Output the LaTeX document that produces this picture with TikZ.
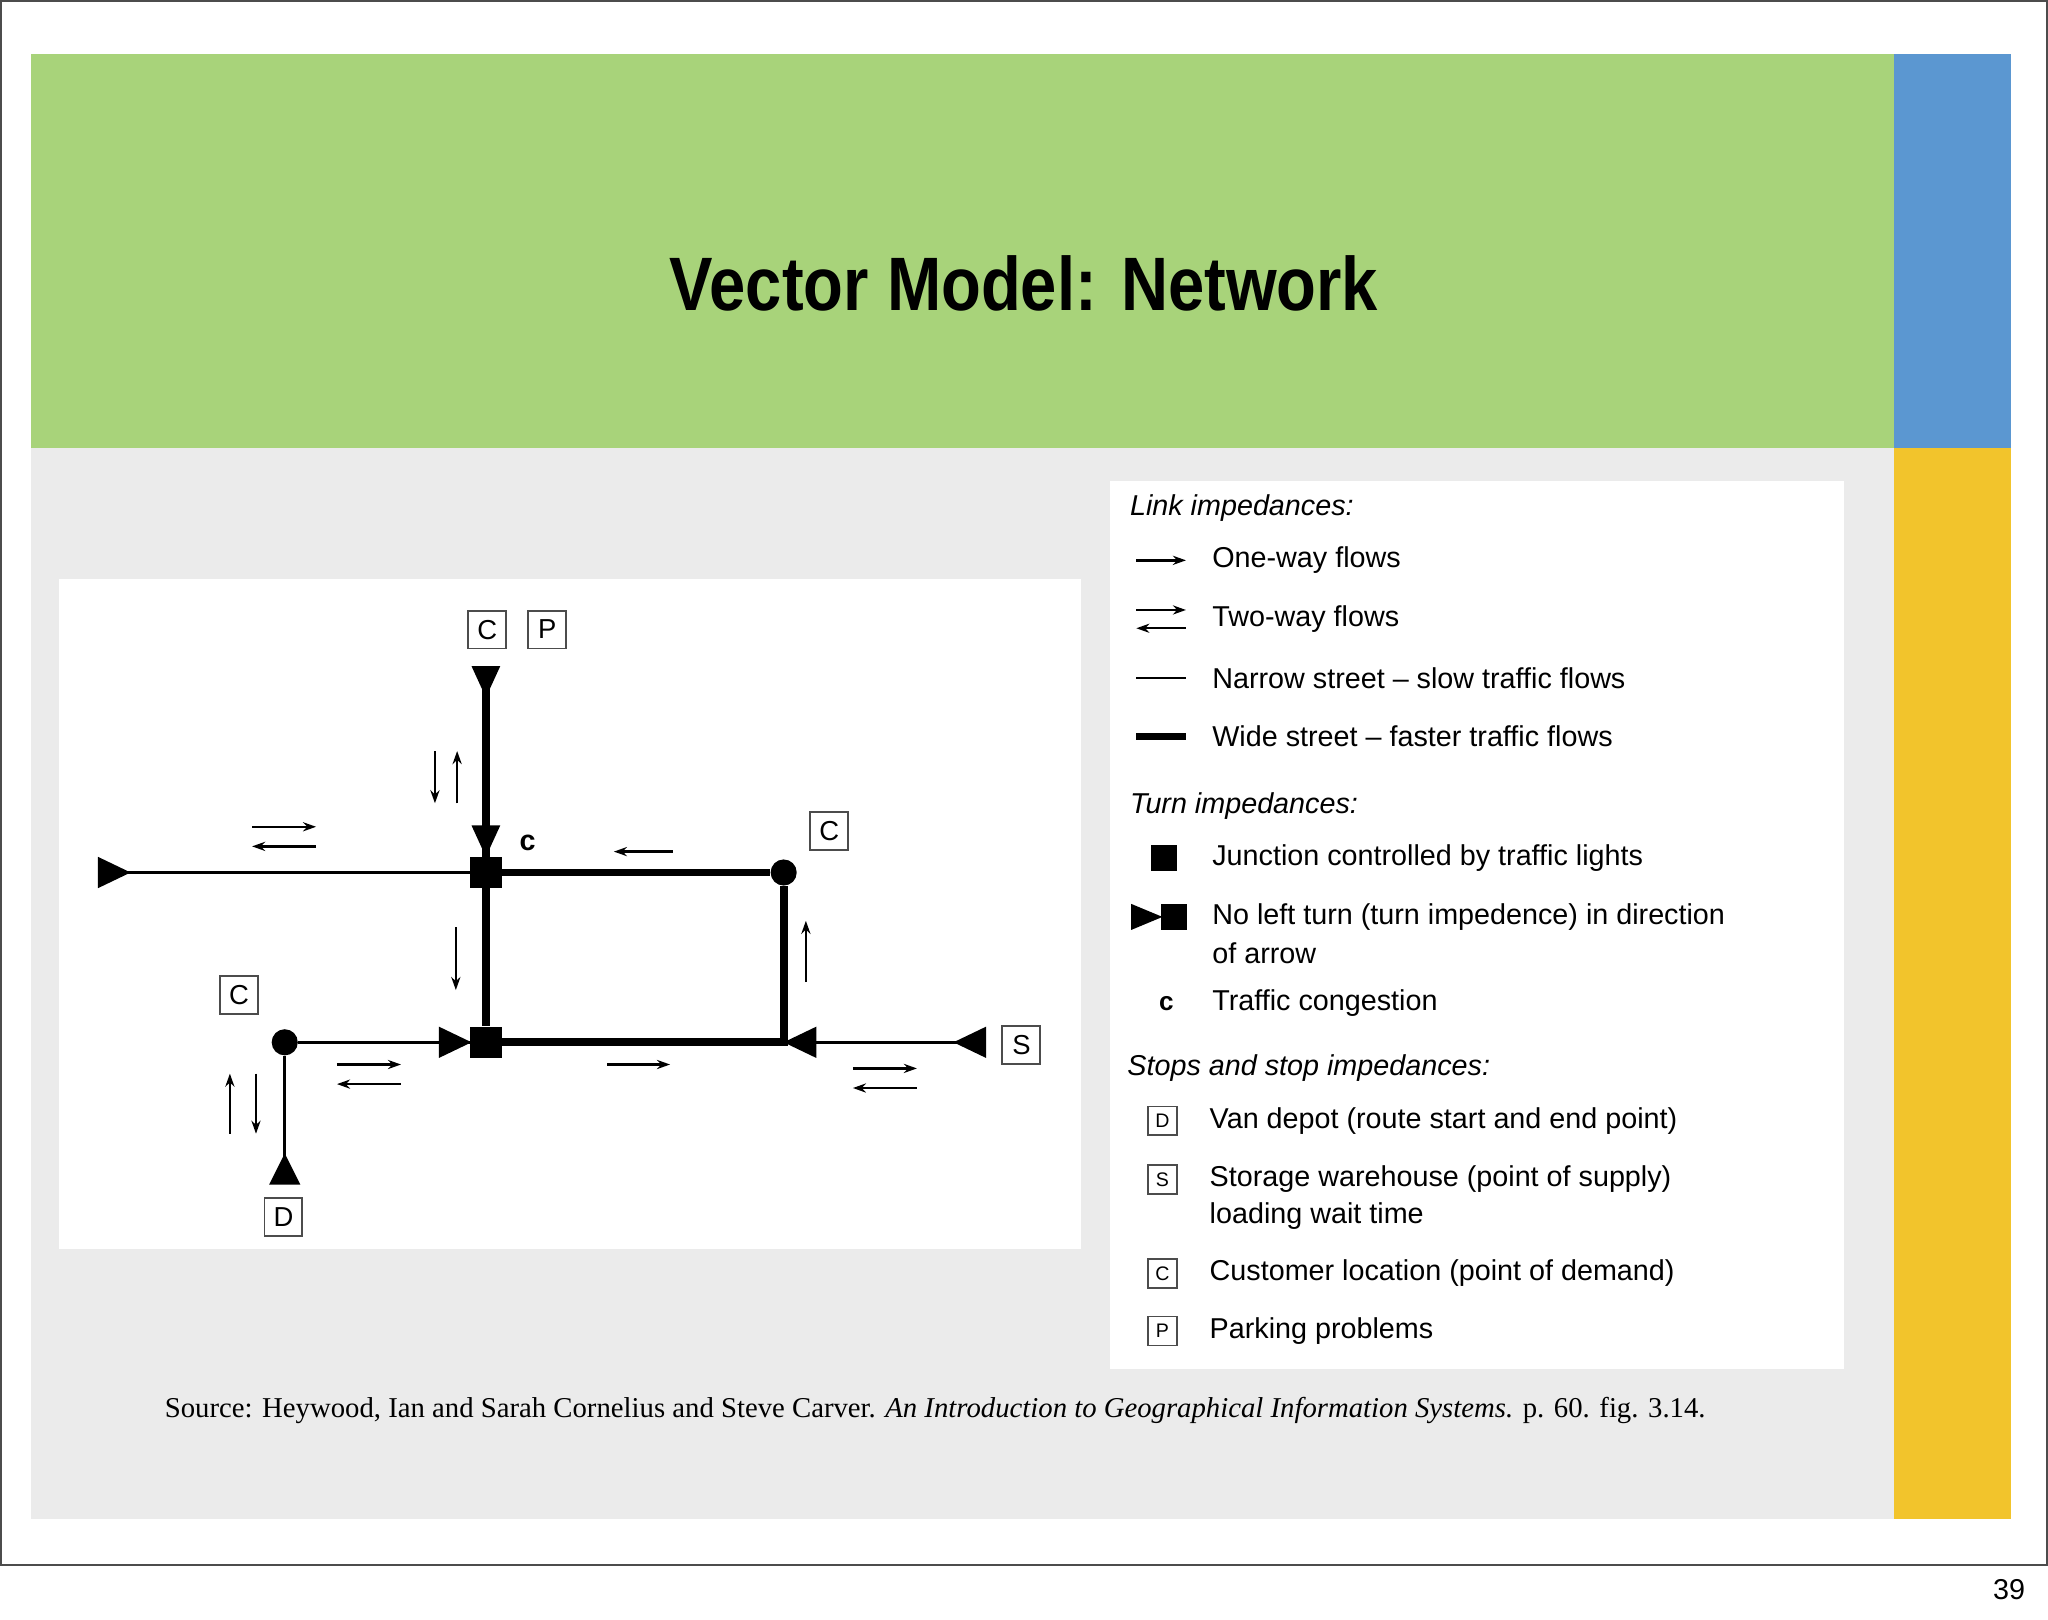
\documentclass[tikz,border=0pt]{standalone}
\usepackage{fontspec}
\setmainfont{Liberation Serif}
\setsansfont{Liberation Sans}
\usetikzlibrary{arrows.meta}
\definecolor{hdr}{HTML}{A8D37A}
\definecolor{blu}{HTML}{5B97D1}
\definecolor{yel}{HTML}{F2C42C}
\definecolor{bod}{HTML}{EBEBEB}
\tikzset{
 thinst/.style={line width=2.5pt},
 thickst/.style={line width=6pt},
 lbox/.style={draw=black!70,line width=1.5pt,minimum size=29pt,inner sep=0pt,font=\sffamily\fontsize{21}{21}\selectfont,fill=white},
 sbox/.style={draw=black!70,line width=1.2pt,minimum size=22pt,inner sep=0pt,font=\sffamily\fontsize{15}{15}\selectfont},
 flow/.style={line width=1.8pt,-{Stealth[length=10pt,width=7pt]}},
 jn/.style={fill=black,minimum size=24pt,inner sep=0pt},
 dotn/.style={circle,fill=black,minimum size=20pt,inner sep=0pt},
 ltxt/.style={anchor=west,font=\sffamily\fontsize{22}{22}\selectfont,inner sep=0pt},
 lhead/.style={anchor=west,font=\sffamily\itshape\fontsize{22}{22}\selectfont,inner sep=0pt},
}
\begin{document}
\begin{tikzpicture}[x=1pt,y=-1pt]
\useasboundingbox (0,0) rectangle (1568,1240);
\fill[white] (0,0) rectangle (1568,1240);
\draw[black!70,line width=1.2pt] (0.6,0.6) rectangle (1567.4,1198);
\fill[hdr] (24,41) rectangle (1450,343);
\fill[blu] (1450,41) rectangle (1540,343);
\fill[yel] (1450,343) rectangle (1540,1163);
\fill[bod] (24,343) rectangle (1450,1163);
\node (title) at (784,217) {\sffamily\bfseries\fontsize{58}{58}\selectfont\scalebox{0.86}[1]{Vector Model: Network}};
\node[anchor=east,font=\sffamily\fontsize{22}{22}\selectfont] (pg) at (1554,1217) {39};
% diagram
\fill[white] (45,443) rectangle (828,956);
\coordinate (top) at (372,512);
\coordinate (wend) at (80,668);
\coordinate (bot) at (218,905);
\coordinate (send) at (755,798);
\node[jn] (j1) at (372,668) {};
\node[jn] (j2) at (372,798) {};
\node[dotn] (d1) at (600,668) {};
\node[dotn] (d2) at (218,798) {};
\coordinate (j3) at (600,798);
\draw[thickst] (top) -- (j1) -- (j2);
\draw[thinst] (wend) -- (j1);
\draw[thickst] (j1) -- (d1) -- (j3) -- (j2);
\draw[thinst] (d2) -- (j2);
\draw[thinst] (j3) -- (send);
\draw[thinst] (d2) -- (bot);
\fill (361,510) -- (383,510) -- (372,534) -- cycle;
\fill (361,632) -- (383,632) -- (372,656) -- cycle;
\fill (75,656) -- (75,680) -- (100,668) -- cycle;
\fill (336,786) -- (336,810) -- (361,798) -- cycle;
\fill (625,786) -- (625,810) -- (600,798) -- cycle;
\fill (755,786) -- (755,810) -- (730,798) -- cycle;
\fill (206,907) -- (230,907) -- (218,883) -- cycle;
\node[lbox] (c1) at (373,482) {C};
\node[lbox] (p1) at (419,482) {P};
\node[lbox] (c2) at (635,636) {C};
\node[lbox] (c3) at (183,762) {C};
\node[lbox] (s1) at (782,800) {S};
\node[lbox] (dd) at (217,932) {D};
\node[font=\sffamily\bfseries\fontsize{22}{22}\selectfont] (cg) at (404,645) {c};
\draw[flow] (333,575) -- (333,615);
\draw[flow] (350,615) -- (350,575);
\draw[flow] (193,633) -- (242,633);
\draw[flow] (242,648) -- (193,648);
\draw[flow] (515,652) -- (470,652);
\draw[flow] (349,710) -- (349,758);
\draw[flow] (617,752) -- (617,705);
\draw[flow] (258,815) -- (307,815);
\draw[flow] (307,830) -- (258,830);
\draw[flow] (465,815) -- (513,815);
\draw[flow] (653,818) -- (702,818);
\draw[flow] (702,833) -- (653,833);
\draw[flow] (176,868) -- (176,822);
\draw[flow] (196,822) -- (196,868);
% legend
\fill[white] (850,368) rectangle (1412,1048);
\node[lhead] (h1) at (865,389) {Link impedances:};
\draw[flow] (870,429) -- (908,429);
\node[ltxt] (t1) at (928,429) {One-way flows};
\draw[flow] (870,467) -- (908,467);
\draw[flow] (908,481) -- (870,481);
\node[ltxt] (t2) at (928,474) {Two-way flows};
\draw[line width=2pt] (870,519) -- (908,519);
\node[ltxt] (t3) at (928,519) {Narrow street – slow traffic flows};
\draw[line width=5pt] (870,564) -- (908,564);
\node[ltxt] (t4) at (928,564) {Wide street – faster traffic flows};
\node[lhead] (h2) at (865,617) {Turn impedances:};
\node[fill=black,minimum size=20pt,inner sep=0pt] (q1) at (891,657) {};
\node[ltxt] (t5) at (928,657) {Junction controlled by traffic lights};
\fill (866,692) -- (866,712) -- (890,702) -- cycle;
\node[fill=black,minimum size=20pt,inner sep=0pt] (q2) at (899,702) {};
\node[ltxt] (t6) at (928,702) {No left turn (turn impedence) in direction};
\node[ltxt] (t6b) at (928,730) {of arrow};
\node[font=\sffamily\bfseries\fontsize{20}{20}\selectfont] (cc) at (893,768) {c};
\node[ltxt] (t7) at (928,768) {Traffic congestion};
\node[lhead] (h3) at (863,818) {Stops and stop impedances:};
\node[sbox] (b1) at (890,858) {D};
\node[ltxt] (t8) at (926,858) {Van depot (route start and end point)};
\node[sbox] (b2) at (890,903) {S};
\node[ltxt] (t9) at (926,903) {Storage warehouse (point of supply)};
\node[ltxt] (t9b) at (926,931) {loading wait time};
\node[sbox] (b3) at (890,975) {C};
\node[ltxt] (t10) at (926,975) {Customer location (point of demand)};
\node[sbox] (b4) at (890,1019) {P};
\node[ltxt] (t11) at (926,1019) {Parking problems};
\node[anchor=west,inner sep=0pt,font=\fontsize{22}{22}\selectfont] (src) at (126,1080) {Source: Heywood, Ian and Sarah Cornelius and Steve Carver. \textit{An Introduction to Geographical Information Systems.} p. 60. fig. 3.14.};
\end{tikzpicture}
\end{document}
